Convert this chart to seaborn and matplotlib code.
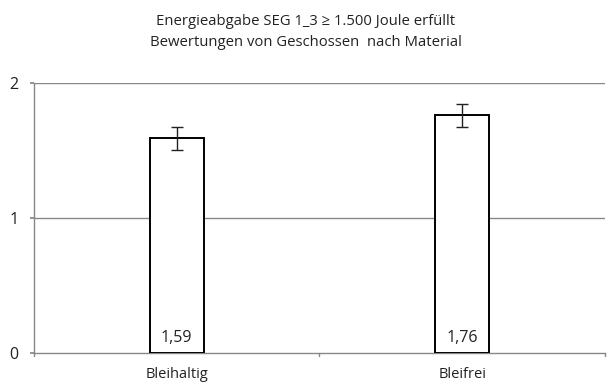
import matplotlib
matplotlib.use("Agg")
import matplotlib.pyplot as plt
import seaborn as sns
import pandas as pd

# Bewertungen je Material
categories = ["Bleihaltig", "Bleifrei"]
means = [1.59, 1.76]
errors = [0.085, 0.085]
yticks = [0, 1, 2]

title = "Energieabgabe SEG 1_3 \u2265 1.500 Joule erfüllt\nBewertungen von Geschossen  nach Material"

sns.set_theme(style="white")
plt.rcParams["font.family"] = ["Open Sans", "DejaVu Sans"]

df = pd.DataFrame({"Material": categories, "Bewertung": means})

fig = plt.figure(figsize=(6.12, 3.87), dpi=100)
ax = fig.add_axes([0.0555, 0.0879, 0.9331, 0.6976])

sns.barplot(data=df, x="Material", y="Bewertung", ax=ax, width=0.19,
            color="white", edgecolor="black", linewidth=1.4, errorbar=None, zorder=3)

ax.errorbar(range(len(categories)), means, yerr=errors, fmt="none",
            ecolor="#222222", elinewidth=1.0, capsize=4, capthick=1.0, zorder=4)

for i, v in enumerate(means):
    ax.text(i, 0.05, f"{v:.2f}".replace(".", ","), ha="center", va="bottom",
            fontsize=11.5, color="#222222", zorder=5,
            bbox=dict(facecolor="white", edgecolor="none", pad=1.5))

ax.set_ylim(0, 2)
ax.set_xlim(-0.5, 1.5)
ax.set_yticks(yticks)
ax.set_yticklabels([str(t) for t in yticks], fontsize=11.5, color="#222222")
ax.tick_params(axis="y", length=3, color="#888888", pad=8, left=True)
ax.tick_params(axis="x", length=0, labelsize=10.5, labelcolor="#222222", pad=10)
for y in yticks[1:]:
    ax.axhline(y, color="#888888", linewidth=1.0, zorder=1)
ax.set_xlabel("")
ax.set_ylabel("")

for side in ["top", "right"]:
    ax.spines[side].set_visible(False)
ax.spines["left"].set_color("#888888")
ax.spines["bottom"].set_color("#888888")
ax.spines["left"].set_linewidth(1.0)
ax.spines["bottom"].set_linewidth(1.0)

# kleine Trennstriche auf der x-Achse
for xb in [-0.5, 0.5, 1.5]:
    ax.plot([xb, xb], [0, -0.025], color="#888888", linewidth=1.0, clip_on=False)

fig.text(0.5, 0.965, title, ha="center", va="top", fontsize=10.7,
         color="#222222", linespacing=1.55)

fig.savefig("out.png", dpi=100, facecolor="white")
